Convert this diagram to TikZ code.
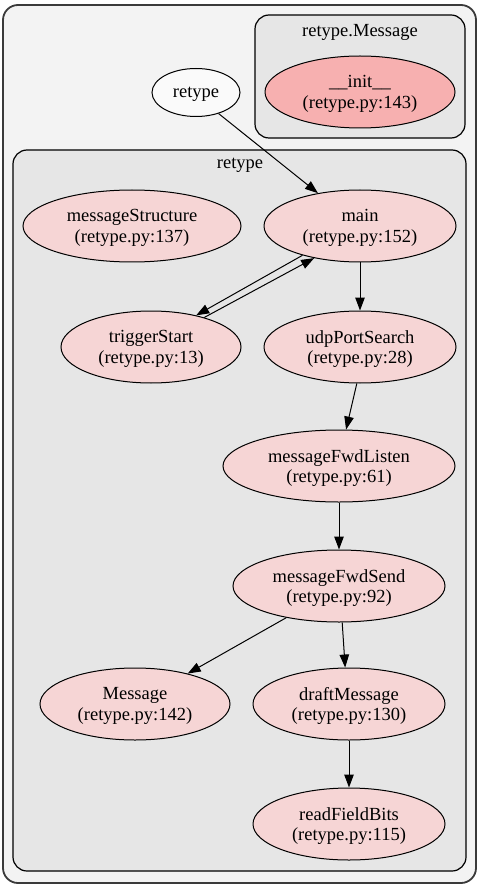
\documentclass[tikz,border=0pt]{standalone}
\usepackage{fontspec}
\setmainfont{Liberation Serif}
\usetikzlibrary{arrows.meta,shapes.geometric}
\definecolor{outerfill}{HTML}{F3F3F3}
\definecolor{clusterfill}{HTML}{E6E6E6}
\definecolor{nodefill}{HTML}{F6D5D5}
\definecolor{initfill}{HTML}{F7B0B0}
\definecolor{outerline}{HTML}{3A3A3A}
\definecolor{plainfill}{HTML}{FAFAFA}
\begin{document}
\begin{tikzpicture}[x=1pt,y=-1pt,
  font=\fontsize{18.5}{20.5}\selectfont,
  fn/.style={ellipse, draw=black, line width=1pt, fill=nodefill, inner sep=0pt, align=center, minimum height=72pt, text depth=0pt},
  edge/.style={-{Triangle[length=13pt,width=9.5pt]}, line width=1pt},
  cluster/.style={draw=black, line width=1.2pt, fill=clusterfill, rounded corners=14pt},
  lbl/.style={inner sep=0pt}]
\useasboundingbox (0,0) rectangle (481,890);
% outer frame and clusters
\draw[fill=outerfill, draw=outerline, line width=1.8pt, rounded corners=15pt] (3,5) rectangle (476,883);
\draw[cluster] (255,15) rectangle (465,138);
\draw[cluster] (13,150) rectangle (466,871);
\node[lbl] (lblMsg) at (360,32) {retype.Message};
\node[lbl] (lblRetype) at (240,165) {retype};
% nodes
\node[fn, minimum width=190pt, fill=initfill] (init) at (360,92) {\_\_init\_\_\\(retype.py:143)};
\node[ellipse, draw=black, line width=1pt, fill=plainfill, inner sep=0pt, minimum width=88pt, minimum height=48pt, text depth=0pt] (retype) at (196,92.5) {retype};
\node[fn, minimum width=218pt] (msgStruct) at (132,226) {messageStructure\\(retype.py:137)};
\node[fn, minimum width=192pt] (main) at (360,226) {main\\(retype.py:152)};
\node[fn, minimum width=180pt] (trigger) at (151,347) {triggerStart\\(retype.py:13)};
\node[fn, minimum width=192pt] (udp) at (360,347) {udpPortSearch\\(retype.py:28)};
\node[fn, minimum width=232pt] (listen) at (339,466) {messageFwdListen\\(retype.py:61)};
\node[fn, minimum width=212pt] (send) at (339,586) {messageFwdSend\\(retype.py:92)};
\node[fn, minimum width=190pt] (message) at (135,704) {Message\\(retype.py:142)};
\node[fn, minimum width=192pt] (draft) at (349,704) {draftMessage\\(retype.py:130)};
\node[fn, minimum width=192pt] (read) at (349,824) {readFieldBits\\(retype.py:115)};
% edges
\draw[edge] (retype.-43) -- (main.142);
\draw[edge] (main.207) -- (trigger.35);
\draw[edge] (trigger.29) -- (main.215);
\draw[edge] (main.south) -- (udp.north);
\draw[edge] (udp.-95) -- (listen.79);
\draw[edge] (listen.south) -- (send.north);
\draw[edge] (send.211) -- (message.30);
\draw[edge] (send.-85) -- (draft.96);
\draw[edge] (draft.south) -- (read.north);
\end{tikzpicture}
\end{document}
